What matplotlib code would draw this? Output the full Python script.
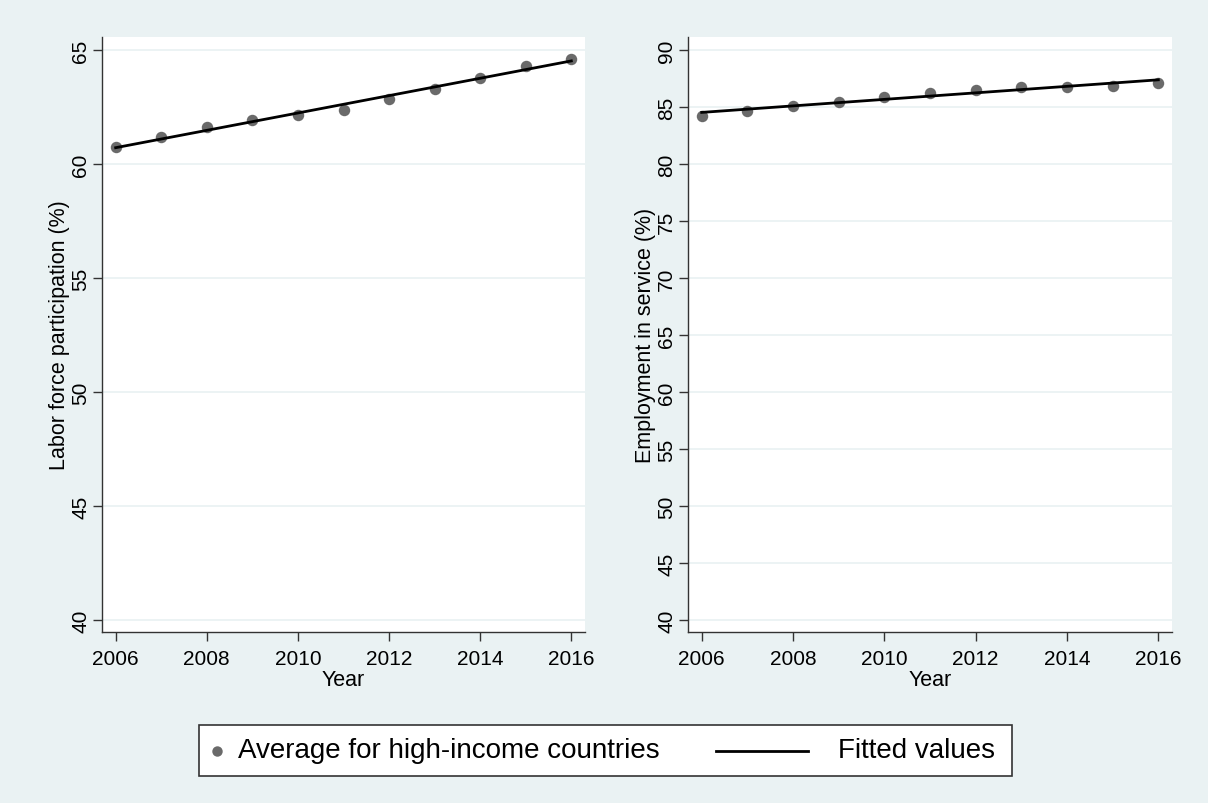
import numpy as np
import matplotlib.pyplot as plt
from matplotlib.lines import Line2D
from matplotlib.patches import Rectangle

plt.rcParams['font.family'] = ['Liberation Sans', 'DejaVu Sans']

years = np.arange(2006, 2017)
labor_force = [60.75, 61.18, 61.65, 61.94, 62.15, 62.37, 62.88, 63.32, 63.80, 64.31, 64.64]
employment_service = [84.27, 84.68, 85.09, 85.49, 85.93, 86.28, 86.57, 86.75, 86.83, 86.89, 87.12]

x_ticks = [2006, 2008, 2010, 2012, 2014, 2016]
left_yticks = [40, 45, 50, 55, 60, 65]
right_yticks = list(range(40, 91, 5))

bg = '#eaf2f3'
dot_color = '#6a6a6a'
edge = '#333333'

fig = plt.figure(figsize=(12.08, 8.04), dpi=100, facecolor=bg)
W, H = 1208, 804


def fx(px):
    return px / W


def fy(py):
    return 1 - py / H


def panel(left, right, ylim, yticks, values, ylabel):
    ax = fig.add_axes([fx(left), fy(633), (right - left) / W, (633 - 38) / H])
    ax.set_facecolor('white')
    # linear fit of the yearly averages
    b, a = np.polyfit(years, values, 1)
    ax.scatter(years, values, s=68, color=dot_color, zorder=3, linewidths=0)
    ax.plot(years, a + b * years, color='black', lw=2.0, zorder=4)
    ax.set_xlim(2005.7, 2016.3)
    ax.set_ylim(*ylim)
    ax.set_xticks(x_ticks)
    ax.set_yticks(yticks)
    ax.set_yticklabels([str(t) for t in yticks], rotation=90, va='center')
    ax.grid(axis='y', color=bg, lw=1.3)
    ax.set_axisbelow(True)
    for s in ['top', 'right']:
        ax.spines[s].set_visible(False)
    for s in ['left', 'bottom']:
        ax.spines[s].set_color(edge)
        ax.spines[s].set_linewidth(1.0)
    ax.tick_params(direction='out', length=6.5, width=1.0, color=edge, labelsize=15)
    ax.tick_params(axis='x', pad=6)
    ax.tick_params(axis='y', pad=2)
    ax.set_xlabel('Year', fontsize=15.5, labelpad=0.5)
    ax.set_ylabel(ylabel, fontsize=15.5, labelpad=1)
    return ax


panel(102, 585, (39.47, 65.59), left_yticks, labor_force, 'Labor force participation (%)')
panel(688, 1172, (38.95, 91.18), right_yticks, employment_service, 'Employment in service (%)')

# legend box drawn in figure coordinates
fig.add_artist(Rectangle((fx(199), fy(777)), (1012 - 199) / W, (777 - 726) / H,
                         transform=fig.transFigure, facecolor='white',
                         edgecolor=edge, lw=1.2))
ly = fy(751.5)
fig.add_artist(Line2D([fx(217)], [ly], marker='o', ls='none', color=dot_color,
                      markersize=7.5, markeredgewidth=0, transform=fig.transFigure))
fig.text(fx(238), ly, 'Average for high-income countries', fontsize=20,
         va='center', ha='left')
fig.add_artist(Line2D([fx(716), fx(808)], [ly, ly], color='black', lw=2.0,
                      transform=fig.transFigure))
fig.text(fx(838), ly, 'Fitted values', fontsize=20, va='center', ha='left')

fig.savefig('out.png', dpi=100, facecolor=bg)
